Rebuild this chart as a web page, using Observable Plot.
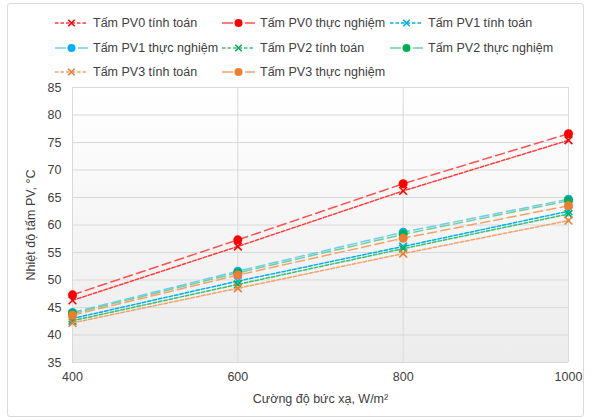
<!DOCTYPE html>
<html>
<head>
<meta charset="utf-8">
<script src="https://cdn.jsdelivr.net/npm/d3@7"></script>
<script src="https://cdn.jsdelivr.net/npm/@observablehq/plot@0.6"></script>
<style>
  html, body { margin: 0; padding: 0; background: #fff; }
  #wrap { position: relative; width: 592px; height: 417px; overflow: hidden; font-family: "Liberation Sans", Arial, sans-serif; }
  #border { position: absolute; left: 7px; top: 3px; width: 575px; height: 412px; border: 1px solid #d9d9d9; border-radius: 3px; pointer-events: none; }
  #legend { position: relative; height: 80px; }
  .item { position: absolute; display: flex; align-items: center; font-size: 12.5px; color: #404040; white-space: nowrap; }
  .item svg { margin-right: 5px; }
  #chart { position: relative; }
</style>
</head>
<body>
<div id="wrap">
  <div id="border"></div>
  <div id="legend"></div>
  <div id="chart"></div>
</div>
<script>
// ---- data ----
const irradiance = [400, 600, 800, 1000];
const pv0Calc = [46.3, 56.1, 66.2, 75.4];
const pv0Exp  = [47.3, 57.3, 67.5, 76.6];
const pv1Calc = [43.0, 49.8, 56.1, 62.5];
const pv1Exp  = [44.1, 51.6, 58.7, 64.7];
const pv2Calc = [42.6, 49.2, 55.7, 62.0];
const pv2Exp  = [43.9, 51.3, 58.3, 64.4];
const pv3Calc = [42.2, 48.5, 54.8, 60.8];
const pv3Exp  = [43.6, 50.9, 57.6, 63.5];
const yTicks = [35, 40, 45, 50, 55, 60, 65, 70, 75, 80, 85];
const xTicks = [400, 600, 800, 1000];
const seriesNames = [
  "Tấm PV0 tính toán", "Tấm PV0 thực nghiệm",
  "Tấm PV1 tính toán", "Tấm PV1 thực nghiệm",
  "Tấm PV2 tính toán", "Tấm PV2 thực nghiệm",
  "Tấm PV3 tính toán", "Tấm PV3 thực nghiệm"
];
const seriesValues = [pv0Calc, pv0Exp, pv1Calc, pv1Exp, pv2Calc, pv2Exp, pv3Calc, pv3Exp];

// styles
const styles = [
  {line: "#ff3b3b", mark: "#ff0000", kind: "calc"},
  {line: "#ff5050", mark: "#ff0000", kind: "exp"},
  {line: "#00b0f0", mark: "#00b0f0", kind: "calc"},
  {line: "#6ccdf2", mark: "#00b0f0", kind: "exp"},
  {line: "#3cc070", mark: "#00b050", kind: "calc"},
  {line: "#6fd09a", mark: "#00b050", kind: "exp"},
  {line: "#f4a26c", mark: "#ed7d31", kind: "calc"},
  {line: "#f4a26c", mark: "#ed7d31", kind: "exp"}
];
const calcDash = "3.5,2";
const expDash = "9,4.5";

// ---- legend ----
const legend = document.getElementById("legend");
const colX = [55, 222, 390];
const rowY = [22.5, 48, 72];
seriesNames.forEach((name, i) => {
  const st = styles[i];
  const div = document.createElement("div");
  div.className = "item";
  div.style.left = colX[i % 3] + "px";
  div.style.top = (rowY[Math.floor(i / 3)] - 8) + "px";
  div.style.height = "16px";
  const sw = 33;
  let svg = `<svg width="${sw}" height="16" style="overflow:visible">`;
  if (st.kind === "calc") {
    svg += `<line x1="0" y1="8" x2="${sw}" y2="8" stroke="${st.line}" stroke-width="1.5" stroke-dasharray="${calcDash}"/>`;
    svg += `<path d="M${sw/2-3.2},4.8L${sw/2+3.2},11.2M${sw/2-3.2},11.2L${sw/2+3.2},4.8" stroke="${st.mark}" stroke-width="1.6"/>`;
  } else {
    svg += `<line x1="0" y1="8" x2="11" y2="8" stroke="${st.line}" stroke-width="1.5"/>`;
    svg += `<line x1="23" y1="8" x2="${sw}" y2="8" stroke="${st.line}" stroke-width="1.5"/>`;
    svg += `<circle cx="${sw/2}" cy="8" r="4" fill="${st.mark}"/>`;
  }
  svg += `</svg>`;
  div.innerHTML = svg + `<span>${name}</span>`;
  legend.appendChild(div);
});

// ---- chart ----
const rows = [];
seriesNames.forEach((name, i) => {
  seriesValues[i].forEach((v, j) => rows.push({series: name, idx: i, x: irradiance[j], y: v}));
});

const marks = [
  Plot.frame({fill: "url(#plotbg)", stroke: "none"}),
  Plot.ruleY(yTicks, {stroke: "#d9d9d9", strokeWidth: 1}),
  Plot.ruleX(xTicks, {stroke: "#d9d9d9", strokeWidth: 1}),
  Plot.axisY(yTicks, {tickSize: 0, tickPadding: 11, fontSize: 12.5, fill: "#404040", tickFormat: d => String(d),
    label: "Nhiệt độ tấm PV, °C", labelAnchor: "center", labelOffset: 46, labelArrow: "none"}),
  Plot.axisX(xTicks, {tickSize: 0, tickPadding: 10, fontSize: 12.5, fill: "#404040", tickFormat: d => String(d),
    label: "Cường độ bức xạ, W/m²", labelAnchor: "center", labelOffset: 40, labelArrow: "none"})
];
seriesNames.forEach((name, i) => {
  const st = styles[i];
  const d = rows.filter(r => r.idx === i);
  marks.push(Plot.line(d, {x: "x", y: "y", stroke: st.line, strokeWidth: 1.5,
    strokeDasharray: st.kind === "calc" ? calcDash : expDash}));
  if (st.kind === "calc") {
    marks.push(Plot.dot(d, {x: "x", y: "y", symbol: "times", r: 3.6, stroke: st.mark, strokeWidth: 1.6}));
  } else {
    marks.push(Plot.dot(d, {x: "x", y: "y", r: 4.5, fill: st.mark, stroke: "none"}));
  }
});

const plot = Plot.plot({
  width: 592,
  height: 337,
  marginTop: 7,
  marginBottom: 55,
  marginLeft: 72,
  marginRight: 24,
  style: {fontFamily: "Liberation Sans, Arial, sans-serif", fontSize: "12.5px", color: "#404040", background: "transparent", overflow: "visible"},
  x: {domain: [400, 1000], ticks: xTicks},
  y: {domain: [35, 85], ticks: yTicks},
  marks
});

const ns = "http://www.w3.org/2000/svg";
const defs = document.createElementNS(ns, "defs");
defs.innerHTML = `<linearGradient id="plotbg" x1="0" y1="0" x2="0" y2="1">
  <stop offset="0" stop-color="#ffffff"/><stop offset="1" stop-color="#ececec"/></linearGradient>`;
plot.insertBefore(defs, plot.firstChild);
document.getElementById("chart").appendChild(plot);
</script>
</body>
</html>
